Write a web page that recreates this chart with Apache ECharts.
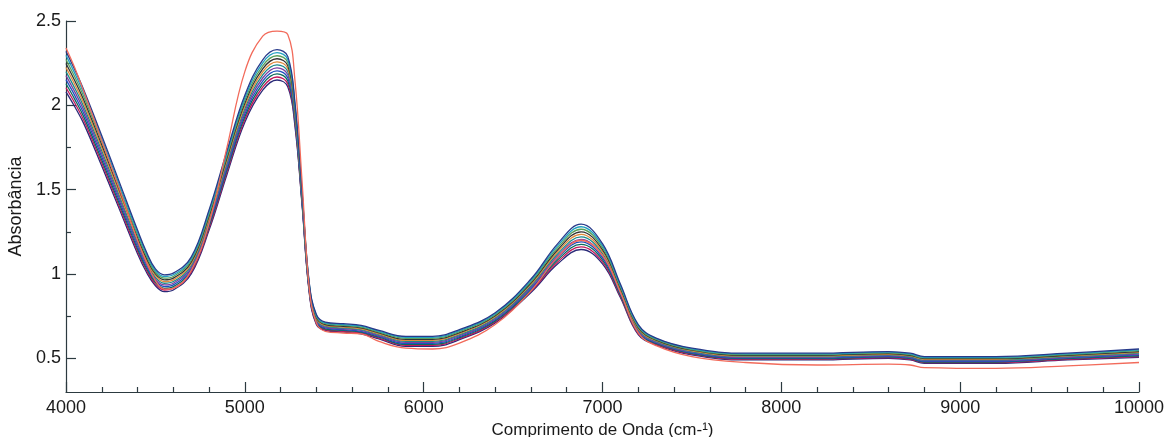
<!DOCTYPE html>
<html>
<head>
<meta charset="utf-8">
<script src="https://cdn.jsdelivr.net/npm/echarts@6/dist/echarts.min.js"></script>
<style>
html,body{margin:0;padding:0;background:#fff;}
#c{width:1168px;height:437px;}
</style>
</head>
<body>
<div id="c"></div>
<script>
// Wavenumbers (cm-1)
const wavenumbers = [4000,4050,4100,4200,4300,4400,4450,4500,4550,4600,4700,4800,4900,5000,5100,5180,5240,5280,5320,5360,5400,5450,5550,5650,5750,5900,6050,6200,6400,6600,6750,6880,7000,7100,7200,7300,7500,7800,8200,8600,8720,8800,9200,9600,10000];

// Absorbance spectra (lowest to highest trace in the band)
const s1  = [2.080,1.990,1.89,1.640,1.380,1.120,1.010,0.93,0.895,0.905,1.00,1.260,1.590,1.900,2.090,2.150,2.110,1.880,1.410,0.890,0.700,0.665,0.655,0.645,0.615,0.570,0.570,0.610,0.710,0.890,1.060,1.145,1.060,0.860,0.640,0.580,0.520,0.490,0.490,0.500,0.490,0.470,0.470,0.490,0.505];
const s2  = [2.104,2.012,1.91,1.658,1.396,1.134,1.022,0.94,0.905,0.915,1.01,1.272,1.604,1.916,2.108,2.168,2.128,1.894,1.418,0.896,0.706,0.670,0.660,0.650,0.620,0.576,0.576,0.616,0.716,0.898,1.072,1.160,1.072,0.868,0.646,0.584,0.524,0.494,0.494,0.504,0.494,0.474,0.474,0.494,0.510];
const s3  = [2.128,2.034,1.93,1.676,1.412,1.148,1.034,0.95,0.915,0.925,1.02,1.284,1.618,1.932,2.126,2.186,2.146,1.908,1.426,0.902,0.712,0.675,0.665,0.655,0.625,0.582,0.582,0.622,0.722,0.906,1.084,1.175,1.084,0.876,0.652,0.588,0.528,0.498,0.498,0.508,0.498,0.478,0.478,0.498,0.515];
const s4  = [2.152,2.056,1.95,1.694,1.428,1.162,1.046,0.96,0.925,0.935,1.03,1.296,1.632,1.948,2.144,2.204,2.164,1.922,1.434,0.908,0.718,0.680,0.670,0.660,0.630,0.588,0.588,0.628,0.728,0.914,1.096,1.190,1.096,0.884,0.658,0.592,0.532,0.502,0.502,0.512,0.502,0.482,0.482,0.502,0.520];
const s5  = [2.176,2.078,1.97,1.712,1.444,1.176,1.058,0.97,0.935,0.945,1.04,1.308,1.646,1.964,2.162,2.222,2.182,1.936,1.442,0.914,0.724,0.685,0.675,0.665,0.635,0.594,0.594,0.634,0.734,0.922,1.108,1.205,1.108,0.892,0.664,0.596,0.536,0.506,0.506,0.516,0.506,0.486,0.486,0.506,0.525];
const s6  = [2.200,2.100,1.99,1.730,1.460,1.190,1.070,0.98,0.945,0.955,1.05,1.320,1.660,1.980,2.180,2.240,2.200,1.950,1.450,0.920,0.730,0.690,0.680,0.670,0.640,0.600,0.600,0.640,0.740,0.930,1.120,1.220,1.120,0.900,0.670,0.600,0.540,0.510,0.510,0.520,0.510,0.490,0.490,0.510,0.530];
const s7  = [2.224,2.122,2.01,1.748,1.476,1.204,1.082,0.99,0.955,0.965,1.06,1.332,1.674,1.996,2.198,2.258,2.218,1.964,1.458,0.926,0.736,0.695,0.685,0.675,0.645,0.606,0.606,0.646,0.746,0.938,1.132,1.235,1.132,0.908,0.676,0.604,0.544,0.514,0.514,0.524,0.514,0.494,0.494,0.514,0.535];
const s8  = [2.248,2.144,2.03,1.766,1.492,1.218,1.094,1.00,0.965,0.975,1.07,1.344,1.688,2.012,2.216,2.276,2.236,1.978,1.466,0.932,0.742,0.700,0.690,0.680,0.650,0.612,0.612,0.652,0.752,0.946,1.144,1.250,1.144,0.916,0.682,0.608,0.548,0.518,0.518,0.528,0.518,0.498,0.498,0.518,0.540];
const s9  = [2.272,2.166,2.05,1.784,1.508,1.232,1.106,1.01,0.975,0.985,1.08,1.356,1.702,2.028,2.234,2.294,2.254,1.992,1.474,0.938,0.748,0.705,0.695,0.685,0.655,0.618,0.618,0.658,0.758,0.954,1.156,1.265,1.156,0.924,0.688,0.612,0.552,0.522,0.522,0.532,0.522,0.502,0.502,0.522,0.545];
const s10 = [2.296,2.188,2.07,1.802,1.524,1.246,1.118,1.02,0.985,0.995,1.09,1.368,1.716,2.044,2.252,2.312,2.272,2.006,1.482,0.944,0.754,0.710,0.700,0.690,0.660,0.624,0.624,0.664,0.764,0.962,1.168,1.280,1.168,0.932,0.694,0.616,0.556,0.526,0.526,0.536,0.526,0.506,0.506,0.526,0.550];
const s11 = [2.320,2.210,2.09,1.820,1.540,1.260,1.130,1.03,0.995,1.005,1.10,1.380,1.730,2.060,2.270,2.330,2.290,2.020,1.490,0.950,0.760,0.715,0.705,0.695,0.665,0.630,0.630,0.670,0.770,0.970,1.180,1.295,1.180,0.940,0.700,0.620,0.560,0.530,0.530,0.540,0.530,0.510,0.510,0.530,0.555];
const outlier = [2.34,2.22,2.08,1.79,1.50,1.20,1.07,0.96,0.91,0.915,1.02,1.30,1.75,2.20,2.41,2.44,2.42,2.15,1.55,0.92,0.71,0.66,0.65,0.645,0.60,0.56,0.555,0.59,0.70,0.90,1.10,1.20,1.11,0.89,0.65,0.575,0.51,0.475,0.46,0.465,0.46,0.445,0.44,0.455,0.475];

const spectra = [s1,s2,s3,s4,s5,s6,s7,s8,s9,s10,s11];
const traceColors = ['#2a2a78','#c2185b','#0b6b5b','#1f4fbf','#7b3fa0','#1a8a8a','#e08a3a','#333333','#5aa05a','#20a0c0','#283a8a'];
const outlierColor = '#f26b5b';

const majorY = [0.5,1,1.5,2,2.5];
const minorY = [0.75,1.25,1.75,2.25];

const axisColor = '#2c3a40';
const textColor = '#1a1a1a';
const font = '"Liberation Sans", Arial, sans-serif';

function lineSeries(name, vals, color) {
  return {
    type: 'line',
    name: name,
    data: wavenumbers.map((w, k) => [w, vals[k]]),
    showSymbol: false,
    smooth: 0.4,
    lineStyle: { width: 1.3, color: color },
    animation: false
  };
}
const series = spectra.map((vals, i) => lineSeries('S' + (i + 1), vals, traceColors[i % traceColors.length]));
series.push(lineSeries('outlier', outlier, outlierColor));

const chart = echarts.init(document.getElementById('c'), null, { renderer: 'canvas' });
chart.setOption({
  animation: false,
  backgroundColor: '#ffffff',
  grid: { left: 66, right: 29, top: 21, bottom: 45, containLabel: false, outerBoundsMode: 'none' },
  xAxis: {
    type: 'value',
    min: 4000, max: 10000, interval: 1000,
    name: 'Comprimento de Onda (cm-\u00B9)',
    nameLocation: 'middle', nameGap: 24,
    nameTextStyle: { color: textColor, fontSize: 17, fontFamily: font },
    axisLine: { show: true, lineStyle: { color: axisColor, width: 1.2 } },
    axisTick: { show: true, inside: true, length: 10, lineStyle: { color: axisColor, width: 1.2 } },
    minorTick: { show: true, splitNumber: 5, length: 5, lineStyle: { color: axisColor, width: 1.2 } },
    splitLine: { show: false },
    minorSplitLine: { show: false },
    axisLabel: { color: textColor, fontSize: 18, fontFamily: font, margin: 7, formatter: v => String(v) }
  },
  yAxis: [{
    type: 'value',
    min: 0.3, max: 2.5,
    name: 'Absorbância',
    nameLocation: 'middle', nameGap: 33,
    nameTextStyle: { color: textColor, fontSize: 18, fontFamily: font },
    axisLine: { show: true, lineStyle: { color: axisColor, width: 1.2 } },
    axisTick: { show: true, inside: true, length: 10, customValues: majorY, lineStyle: { color: axisColor, width: 1.2 } },
    splitLine: { show: false },
    axisLabel: { color: textColor, fontSize: 18, fontFamily: font, margin: 5, customValues: majorY,
      formatter: v => String(v) }
  }, {
    type: 'value',
    min: 0.3, max: 2.5,
    position: 'left',
    axisLine: { show: false },
    axisTick: { show: true, inside: true, length: 5, customValues: minorY, lineStyle: { color: axisColor, width: 1.2 } },
    splitLine: { show: false },
    axisLabel: { show: false }
  }],
  series: series
});
</script>
</body>
</html>
